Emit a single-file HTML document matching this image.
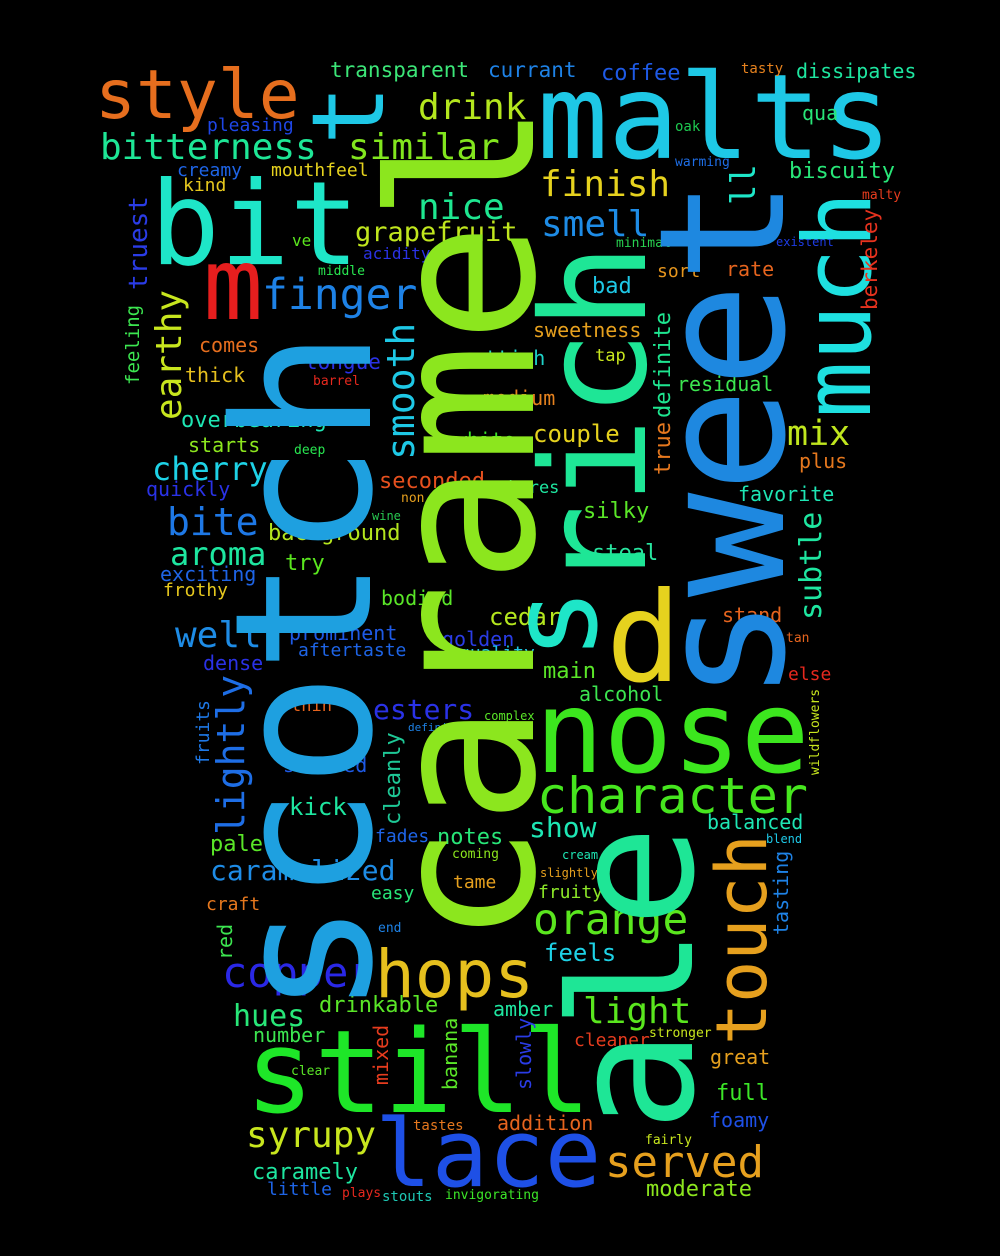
<!DOCTYPE html>
<html><head><meta charset="utf-8">
<style>
html,body{margin:0;padding:0;background:#000;}
#cloud{position:relative;width:1000px;height:1256px;overflow:hidden;background:#000;}
#cloud span{position:absolute;white-space:nowrap;line-height:1;font-family:"DejaVu Sans Mono","Liberation Mono",monospace;}
</style></head>
<body>
<div id="cloud"></div>
<script>
// horizontal words: text, left x, baseline y, font size, color
const hWords = [
["malts",537,158,118,"#1ec8e6"],["bit",150,265,116,"#1ee6c8"],["m",203,320,100,"#e61e1e"],
["style",95,120,68,"#e66e1e"],["nose",535,772,114,"#3ce61e"],["still",245,1113,115,"#1ee628"],
["lace",375,1188,94,"#1e50e6"],["hops",375,998,66,"#e6c01e"],["d",606,682,125,"#e6d21e"],
["character",537,813,50,"#46e61e"],["orange",533,935,43,"#5ae61e"],["served",605,1178,44,"#e6a01e"],
["finger",262,310,43,"#1e82e6"],["copper",222,988,42,"#2a28e6"],["syrupy",246,1148,36,"#c8e61e"],
["light",583,1024,36,"#5ae61e"],["bitterness",100,160,36,"#1ee696"],["similar",348,160,36,"#82e61e"],
["drink",418,120,36,"#b4e61e"],["finish",540,197,36,"#e6d21e"],["nice",418,220,36,"#1ee690"],
["smell",541,237,36,"#1e8ce6"],["grapefruit",355,242,27,"#c0e61e"],["mix",787,447,35,"#c0e61e"],
["cherry",152,480,32,"#1ed2e6"],["bite",167,535,38,"#1e78e6"],["aroma",170,565,32,"#1ee6a0"],
["well",175,648,36,"#1e8ce6"],["transparent",330,78,21,"#3ce678"],["currant",488,78,21,"#1e82e6"],
["coffee",601,82,22,"#1e5ae6"],["dissipates",796,78,20,"#1ee6a0"],["tasty",741,74,14,"#e6821e"],
["pleasing",207,132,18,"#1e46e6"],["oak",675,132,14,"#1ec850"],["qua",802,120,20,"#28e678"],
["creamy",177,177,18,"#1e64e6"],["kind",183,192,18,"#e6c81e"],["mouthfeel",271,177,18,"#e6d21e"],
["warming",675,167,13,"#1e6ee6"],["biscuity",789,180,22,"#28e678"],["malty",862,200,13,"#e63c1e"],
["minimal",616,248,13,"#28d250"],["existent",776,246,12,"#1e3ce6"],["ve",292,247,16,"#5ae61e"],
["acidity",363,260,16,"#2a32e6"],["middle",318,276,13,"#28e650"],["sort",657,278,18,"#e6961e"],
["rate",726,276,20,"#e6641e"],["bad",592,295,22,"#1ec8e6"],["sweetness",533,337,20,"#e6a01e"],
["comes",199,352,20,"#e66e1e"],["tap",595,362,17,"#c8e61e"],["tongue",305,370,21,"#2a32e6"],
["scottish",449,365,20,"#1ed2c8"],["thick",185,382,20,"#e6c01e"],["barrel",313,386,13,"#e6281e"],
["residual",677,391,20,"#3ce650"],["medium",483,405,20,"#e6821e"],["overbearing",181,429,22,"#1ee6b4"],
["starts",188,452,20,"#8ce61e"],["white",455,447,20,"#3ce628"],["couple",533,442,24,"#e6d21e"],
["deep",294,455,13,"#28e650"],["plus",799,468,20,"#e6781e"],["quickly",146,496,20,"#2a32e6"],
["seconded",379,490,22,"#e6501e"],["theres",498,494,17,"#1ee6a0"],["non",401,503,13,"#e6a01e"],
["favorite",738,501,20,"#1ee6b4"],["wine",372,520,12,"#28c850"],["silky",583,520,22,"#5ae628"],
["background",268,542,22,"#b4e61e"],["steal",592,562,22,"#28e6a0"],["try",285,572,22,"#5ae61e"],
["exciting",160,581,20,"#1e64e6"],["frothy",163,597,18,"#e6c81e"],["bodied",381,605,20,"#5ae628"],
["cedar",489,625,24,"#b4e61e"],["stand",722,622,20,"#e6641e"],["prominent",289,640,20,"#1e5ae6"],
["golden",442,646,20,"#2a3ce6"],["aftertaste",298,657,18,"#1e64e6"],["quality",459,660,18,"#1ec8e6"],
["tan",786,643,13,"#e6641e"],["dense",203,670,20,"#2a32e6"],["main",543,680,22,"#5ae628"],
["else",788,681,18,"#e6281e"],["alcohol",579,701,20,"#3ce650"],["thin",291,712,17,"#e6641e"],
["esters",373,720,28,"#2a32e6"],["complex",484,720,12,"#5ae628"],["definitely",408,731,11,"#1e82e6"],
["subdued",283,772,20,"#1e5ae6"],["kick",289,815,24,"#1ee6a0"],["show",529,838,28,"#1ee6b4"],
["balanced",707,829,20,"#1ee6b4"],["fades",375,843,18,"#1e64e6"],["notes",437,846,22,"#28e678"],
["blend",766,843,12,"#1ec8e6"],["pale",210,853,22,"#5ae628"],["coming",452,859,13,"#8ce61e"],
["cream",562,859,12,"#1ee6b4"],["caramelized",210,881,28,"#1e8ce6"],["slightly",540,877,12,"#e6a01e"],
["easy",371,900,18,"#28e678"],["tame",453,889,18,"#e6a01e"],["fruity",538,899,18,"#8ce628"],
["craft",206,911,18,"#e6781e"],["end",378,933,13,"#1e82e6"],["feels",544,961,24,"#1ed2e6"],
["hues",233,1027,30,"#28e678"],["drinkable",319,1014,22,"#5ae628"],["amber",493,1016,20,"#1ee6a0"],
["number",253,1042,20,"#3ce650"],["cleaner",574,1047,18,"#e63c1e"],["stronger",649,1038,13,"#c8e61e"],
["great",710,1064,20,"#e6a01e"],["clear",291,1076,13,"#5ae628"],["full",716,1102,22,"#3ce628"],
["foamy",709,1127,20,"#1e50e6"],["addition",497,1130,20,"#e6641e"],["tastes",413,1131,14,"#e6781e"],
["fairly",645,1145,13,"#c8e61e"],["caramely",252,1181,22,"#1ee6a0"],["little",267,1196,18,"#1e64e6"],
["moderate",646,1198,22,"#8ce61e"],["plays",342,1198,13,"#e6281e"],["stouts",382,1202,14,"#1ec8b4"],
["invigorating",445,1200,13,"#3ce628"]
];
// vertical words (read bottom-to-top): text, visual left x, bottom y, font size, color
const vWords = [
["scotch",226,1016,190,"#1ea0e0"],["caramel",382,945,200,"#8ce61e"],["sweet",652,702,174,"#1e88e0"],
["ale",564,1132,170,"#1ee696"],["rich",535,592,145,"#1ee696"],["s",506,660,120,"#1ee6c8"],
["much",800,418,94,"#1ee0e0"],
["t",308,145,100,"#1ec8e6"],["touch",713,1045,70,"#e6a01e"],["earthy",155,420,36,"#c8e61e"],
["truest",128,290,26,"#2a3ce6"],["feeling",126,385,19,"#3ce650"],["lightly",215,835,38,"#1e6ee6"],
["smooth",385,460,38,"#1ec8e6"],["subtle",800,620,30,"#1ee6a0"],["definite",655,418,22,"#1ee690"],
["true",655,475,22,"#e6781e"],["ll",730,205,34,"#1ee6c8"],["berkeley",862,310,21,"#e6321e"],
["tasting",773,935,20,"#1e82e6"],["wildflowers",810,775,13,"#c8e61e"],["fruits",197,765,18,"#1e78e6"],
["cleanly",385,825,22,"#1ec896"],["red",217,960,20,"#3ce650"],["mixed",373,1085,20,"#e63c1e"],
["banana",442,1090,20,"#5ae628"],["slowly",516,1090,20,"#2a3ce6"]
];
const cloud = document.getElementById('cloud');
hWords.forEach(w => {
  const el = document.createElement('span');
  
  
  el.textContent = w[0];
  el.style.left = w[1] + 'px';
  el.style.top = (w[2] - 0.846 * w[3]) + 'px';
  el.style.fontSize = w[3] + 'px';
  el.style.color = w[4];
  cloud.appendChild(el);
});
vWords.forEach(w => {
  const el = document.createElement('span');
  
  
  el.textContent = w[0];
  el.style.left = (w[1] - 0.086 * w[3]) + 'px';
  el.style.top = w[2] + 'px';
  el.style.fontSize = w[3] + 'px';
  el.style.color = w[4];
  el.style.transformOrigin = '0 0';
  el.style.transform = 'rotate(-90deg)';
  cloud.appendChild(el);
});
</script>
</body></html>
